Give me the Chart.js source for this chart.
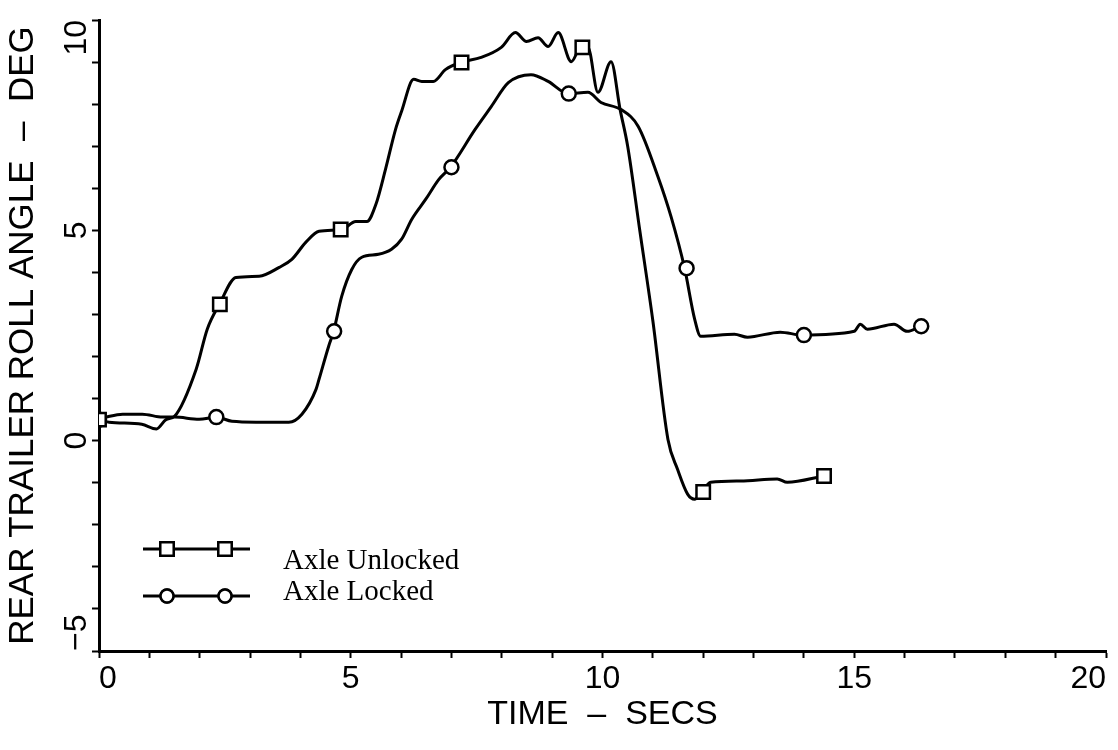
<!DOCTYPE html>
<html>
<head>
<meta charset="utf-8">
<script src="https://cdn.jsdelivr.net/npm/chart.js@4.4.1/dist/chart.umd.min.js"></script>
<style>
html, body { margin: 0; padding: 0; background: #fff; }
</style>
</head>
<body>
<canvas id="rollChart" width="1118" height="750"></canvas>
<script>
// time (secs) and rear trailer roll angle (deg)
var unlockedT = [0, 0.2, 0.85, 1.14, 1.33, 1.5, 1.93, 2.15, 2.39, 2.72, 3.18, 3.58, 3.83, 4.11, 4.37, 4.82, 5.10, 5.32, 5.50, 5.69, 5.89, 6.01, 6.25, 6.41, 6.64, 6.88, 7.18, 7.59, 7.99, 8.27, 8.49, 8.72, 8.92, 9.12, 9.38, 9.57, 9.71, 9.91, 10.17, 10.35, 10.50, 10.74, 11.00, 11.30, 11.49, 11.69, 11.83, 11.95, 12.15, 12.74, 13.47, 13.67, 14.40];
var unlockedY = [0.50, 0.44, 0.39, 0.28, 0.50, 0.58, 1.70, 2.65, 3.24, 3.88, 3.91, 4.12, 4.31, 4.72, 4.98, 5.02, 5.21, 5.21, 5.62, 6.45, 7.40, 7.83, 8.59, 8.54, 8.54, 8.82, 8.99, 9.11, 9.35, 9.70, 9.49, 9.58, 9.37, 9.70, 9.01, 9.35, 9.35, 8.28, 9.01, 7.87, 7.00, 5.00, 2.85, 0.03, -0.68, -1.27, -1.39, -1.25, -0.99, -0.96, -0.91, -0.99, -0.84];

var lockedT = [0, 0.21, 0.47, 0.86, 1.26, 1.50, 1.99, 2.33, 2.64, 3.12, 3.77, 4.03, 4.31, 4.37, 4.56, 4.66, 4.82, 5.02, 5.22, 5.55, 5.81, 6.01, 6.21, 6.49, 6.75, 6.98, 7.47, 7.79, 8.13, 8.58, 8.92, 9.32, 9.71, 9.97, 10.37, 10.71, 11.10, 11.36, 11.63, 11.83, 11.95, 12.62, 12.88, 13.53, 13.97, 15.00, 15.12, 15.26, 15.79, 16.05, 16.33];
var lockedY = [0.50, 0.58, 0.63, 0.63, 0.56, 0.56, 0.51, 0.56, 0.46, 0.44, 0.44, 0.63, 1.22, 1.46, 2.24, 2.60, 3.43, 4.07, 4.36, 4.43, 4.55, 4.79, 5.26, 5.74, 6.21, 6.50, 7.40, 7.94, 8.51, 8.70, 8.54, 8.25, 8.28, 8.04, 7.87, 7.47, 6.28, 5.33, 4.10, 2.89, 2.48, 2.53, 2.46, 2.58, 2.51, 2.60, 2.77, 2.65, 2.77, 2.60, 2.72];

var unlockedMarkT = [0, 2.4, 4.8, 7.2, 9.6, 12.0, 14.4];
var unlockedMarkY = [0.5, 3.24, 5.02, 8.99, 9.35, -1.22, -0.84];
var lockedMarkT = [0, 2.33, 4.67, 7.0, 9.33, 11.67, 14.0, 16.33];
var lockedMarkY = [0.5, 0.56, 2.6, 6.5, 8.25, 4.1, 2.51, 2.72];

var xTickVals = [0, 5, 10, 15, 20];
var xTickLabels = ["0", "5", "10", "15", "20"];
var yTickVals = [-5, 0, 5, 10];
var yTickLabels = ["\u22125", "0", "5", "10"];

var seriesNames = ["Axle Unlocked", "Axle Locked"];

function toPoints(xs, ys) {
    return xs.map(function(x, i) { return { x: x, y: ys[i] }; });
}

// rotated y tick labels, like the plotter output
var yLabelPlugin = {
    id: "yLabels",
    afterDraw: function(chart) {
        var ctx = chart.ctx;
        var ys = chart.scales.y;
        ctx.save();
        ctx.fillStyle = "#000";
        ctx.font = "32px 'Liberation Sans'";
        ctx.textBaseline = "middle";
        yTickVals.forEach(function(v, i) {
            var py = ys.getPixelForValue(v);
            ctx.save();
            ctx.translate(ys.right - 22, py);
            ctx.rotate(-Math.PI / 2);
            if (i == yTickVals.length - 1) {
                ctx.textAlign = "right";
            } else if (i == 0) {
                ctx.textAlign = "left";
            } else {
                ctx.textAlign = "center";
            }
            ctx.fillText(yTickLabels[i], 0, 0);
            ctx.restore();
        });
        ctx.restore();
    }
};

// legend inside the plot: a line with two markers, then the name
var legendPlugin = {
    id: "plotLegend",
    afterDraw: function(chart) {
        var ctx = chart.ctx;
        var rows = [
            { y: 549, style: "rect", radius: 9.5, base: 569 },
            { y: 596, style: "circle", radius: 6.5, base: 600 }
        ];
        ctx.save();
        rows.forEach(function(r, i) {
            ctx.strokeStyle = "#000";
            ctx.lineWidth = 3;
            ctx.beginPath();
            ctx.moveTo(143, r.y);
            ctx.lineTo(250, r.y);
            ctx.stroke();
            [167, 225].forEach(function(mx) {
                ctx.lineWidth = 2.5;
                ctx.fillStyle = "#fff";
                Chart.helpers.drawPoint(ctx, { pointStyle: r.style, radius: r.radius, borderWidth: 2.5 }, mx, r.y);
                ctx.fill();
                ctx.stroke();
            });
            ctx.fillStyle = "#000";
            ctx.font = "29px 'Liberation Serif'";
            ctx.textAlign = "left";
            ctx.textBaseline = "alphabetic";
            ctx.fillText(seriesNames[i], 283, r.base);
        });
        ctx.restore();
    }
};

var curveStyle = {
    showLine: true,
    borderColor: "#000",
    borderWidth: 3,
    pointRadius: 0,
    cubicInterpolationMode: "monotone",
    order: 2
};

var markStyle = {
    showLine: false,
    pointBorderWidth: 2.5,
    pointBorderColor: "#000",
    pointBackgroundColor: "#fff",
    order: 1
};

var ctx = document.getElementById("rollChart").getContext("2d");
var roll_chart = new Chart(ctx, {
    type: "scatter",
    data: {
        datasets: [
            Object.assign({ label: seriesNames[0], data: toPoints(unlockedT, unlockedY) }, curveStyle),
            Object.assign({ label: seriesNames[1], data: toPoints(lockedT, lockedY) }, curveStyle),
            Object.assign({ label: seriesNames[0] + " marks", data: toPoints(unlockedMarkT, unlockedMarkY), pointStyle: "rect", pointRadius: 9.5 }, markStyle),
            Object.assign({ label: seriesNames[1] + " marks", data: toPoints(lockedMarkT, lockedMarkY), pointStyle: "circle", pointRadius: 7 }, markStyle)
        ]
    },
    options: {
        responsive: false,
        animation: false,
        layout: {
            padding: { top: 20, right: 9, left: 0, bottom: 0 }
        },
        plugins: {
            legend: { display: false },
            tooltip: { enabled: false }
        },
        scales: {
            x: {
                type: "linear",
                min: 0,
                max: 20,
                afterFit: function(scale) { scale.height = 99; },
                border: { color: "#000", width: 3 },
                grid: { drawOnChartArea: false, drawTicks: true, tickLength: 7, tickColor: "#000", tickWidth: 2 },
                ticks: {
                    stepSize: 1,
                    autoSkip: false,
                    maxRotation: 0,
                    align: "inner",
                    padding: 2,
                    color: "#000",
                    font: { family: "Liberation Sans", size: 32 },
                    callback: function(value) {
                        var k = xTickVals.indexOf(value);
                        return k >= 0 ? xTickLabels[k] : "";
                    }
                },
                title: {
                    display: true,
                    text: "TIME  \u2013  SECS",
                    color: "#000",
                    font: { family: "Liberation Sans", size: 34 },
                    padding: { top: 0, bottom: 15 }
                }
            },
            y: {
                type: "linear",
                min: -5,
                max: 10,
                afterFit: function(scale) { scale.width = 99; },
                border: { color: "#000", width: 3 },
                grid: { drawOnChartArea: false, drawTicks: true, tickLength: 7, tickColor: "#000", tickWidth: 2 },
                ticks: {
                    stepSize: 1,
                    display: false
                },
                title: {
                    display: true,
                    text: "REAR TRAILER ROLL ANGLE  \u2013  DEG",
                    color: "#000",
                    font: { family: "Liberation Sans", size: 35 },
                    padding: { top: 2, bottom: 0 }
                }
            }
        }
    },
    plugins: [yLabelPlugin, legendPlugin]
});
</script>
</body>
</html>
